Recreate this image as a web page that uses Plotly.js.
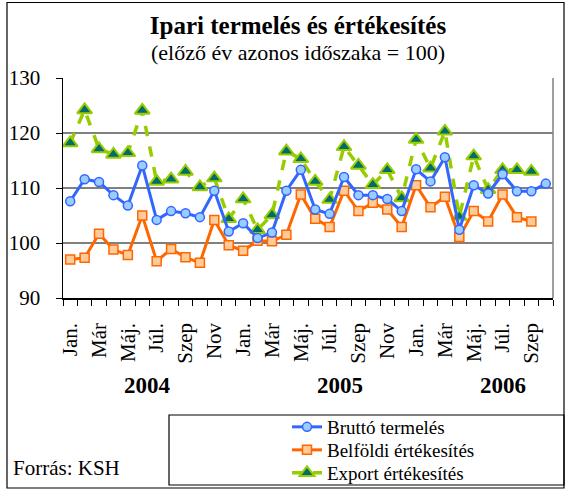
<!DOCTYPE html>
<html>
<head>
<meta charset="utf-8">
<script src="https://cdn.plot.ly/plotly-3.0.1.min.js"></script>
<style>html,body{margin:0;padding:0;background:#fff;}#chart{width:565px;height:490px;}</style>
</head>
<body>
<div id="chart"></div>
<script>
const years = ["2004", "2005", "2006"];
const monthNames = ["Jan.", "Feb.", "Már", "Ápr.", "Máj.", "Jún.", "Júl.", "Aug.", "Szep", "Okt.", "Nov", "Dec."];
const nMonths = 34; // Jan 2004 .. Oct 2006

const brutto = [
  107.6, 111.6, 111.1, 108.7, 106.8, 114.1, 104.2, 105.8, 105.4, 104.7, 109.5, 102.1,
  103.6, 100.9, 101.9, 109.5, 113.3, 106.1, 105.3, 112.0, 108.7, 108.7, 108.0, 105.8,
  113.4, 111.2, 115.6, 102.4, 110.5, 109.0, 112.5, 109.4, 109.4, 110.8
];
const belfoldi = [
  97.0, 97.3, 101.7, 98.8, 97.8, 105.0, 96.7, 98.9, 97.4, 96.4, 104.2, 99.6,
  98.6, 100.4, 100.3, 101.5, 108.8, 104.4, 102.9, 109.5, 105.8, 107.3, 106.1, 102.9,
  110.5, 106.5, 108.4, 101.1, 105.8, 103.9, 108.8, 104.7, 103.9
];
const exportV = [
  118.2, 124.2, 117.1, 116.1, 116.4, 124.1, 111.2, 111.6, 113.0, 110.2, 111.8, 104.4,
  108.0, 102.4, 105.1, 116.7, 115.3, 111.2, 107.9, 117.5, 114.1, 110.6, 113.3, 108.2,
  118.8, 113.6, 120.3, 104.8, 115.8, 109.7, 113.3, 113.3, 113.0
];

const categories = [];
const tickText = [];
for (let i = 0; i < nMonths; i++) {
  const y = years[Math.floor(i / 12)];
  const m = monthNames[i % 12];
  categories.push(y + " " + m);
  tickText.push(i % 2 === 0 ? m : "");
}

const FONT = "Liberation Serif";

const traces = [
  {
    x: categories.slice(0, exportV.length), y: exportV, name: "Export értékesítés",
    type: "scatter", mode: "lines+markers",
    line: {color: "#99cc00", width: 3.5, dash: "dash"},
    marker: {symbol: "triangle-up", size: 13, color: "#006c6c", line: {color: "#99cc00", width: 2}},
    legend: "legend3"
  },
  {
    x: categories.slice(0, belfoldi.length), y: belfoldi, name: "Belföldi értékesítés",
    type: "scatter", mode: "lines+markers",
    line: {color: "#ff6600", width: 3},
    marker: {symbol: "square", size: 9, color: "#ffcc99", line: {color: "#ff6600", width: 1.5}},
    legend: "legend2"
  },
  {
    x: categories.slice(0, brutto.length), y: brutto, name: "Bruttó termelés",
    type: "scatter", mode: "lines+markers",
    line: {color: "#3366ff", width: 3},
    marker: {symbol: "circle", size: 9, color: "#99ccff", line: {color: "#3366ff", width: 1.5}},
    legend: "legend"
  }
];

const L = 63, R = 553, T = 78, B = 298;
const W = 565, H = 490;
const px = v => (v - L) / (R - L);
const py = v => (B - v) / (B - T);

function legendAt(rowY) {
  return {
    x: px(287), xanchor: "left", y: py(rowY), yanchor: "middle",
    bgcolor: "rgba(0,0,0,0)", borderwidth: 0,
    font: {family: FONT, size: 19, color: "#000"}
  };
}

const layout = {
  width: W, height: H,
  margin: {l: L, r: W - R, t: T, b: H - B, pad: 0, autoexpand: false},
  paper_bgcolor: "#ffffff", plot_bgcolor: "#ffffff",
  font: {family: FONT, color: "#000", size: 20},
  title: {
    text: "<b>Ipari termelés és értékesítés</b>",
    font: {family: FONT, size: 25, color: "#000"},
    x: 298 / W, xanchor: "center", y: 1 - 25 / H, yanchor: "middle"
  },
  showlegend: true,
  legend: legendAt(427),
  legend2: legendAt(450),
  legend3: legendAt(473),
  xaxis: {
    type: "category",
    categoryorder: "array", categoryarray: categories,
    tickvals: categories, ticktext: tickText,
    tickson: "boundaries",
    ticks: "outside", ticklen: 6, tickwidth: 1, tickcolor: "#000",
    tickangle: -90,
    ticklabelstandoff: 15,
    tickfont: {family: FONT, size: 21, color: "#000"},
    showline: true, linecolor: "#000", linewidth: 1.5,
    showgrid: false, zeroline: false, automargin: false,
    range: [-0.5, nMonths - 0.5],
    fixedrange: true
  },
  yaxis: {
    range: [90, 130], tickvals: [90, 100, 110, 120, 130],
    ticks: "outside", ticklen: 6, tickwidth: 1, tickcolor: "#000",
    ticklabelstandoff: 11,
    tickfont: {family: FONT, size: 21, color: "#000"},
    showline: true, linecolor: "#000", linewidth: 1.5,
    showgrid: true, gridcolor: "#808080", gridwidth: 1.5,
    zeroline: false, automargin: false, fixedrange: true
  },
  shapes: [
    {type: "line", xref: "paper", yref: "paper", x0: 1, x1: 1, y0: 0, y1: 1,
     line: {color: "#808080", width: 1.5}},
    {type: "rect", xref: "paper", yref: "paper",
     x0: px(7), x1: px(564), y0: py(2.5), y1: py(488),
     line: {color: "#000", width: 1.2}, layer: "below"},
    {type: "rect", xref: "paper", yref: "paper",
     x0: px(169), x1: px(564), y0: py(415), y1: py(485),
     line: {color: "#000", width: 1.2}, layer: "below"}
  ],
  annotations: [
    {text: "(előző év azonos időszaka = 100)", xref: "paper", yref: "paper",
     x: px(298), y: py(52), xanchor: "center", yanchor: "middle", showarrow: false,
     font: {family: FONT, size: 22, color: "#000"}},
    {text: "<b>" + years[0] + "</b>", xref: "paper", yref: "paper",
     x: px(147), y: py(385), xanchor: "center", yanchor: "middle", showarrow: false,
     font: {family: FONT, size: 23, color: "#000"}},
    {text: "<b>" + years[1] + "</b>", xref: "paper", yref: "paper",
     x: px(340), y: py(385), xanchor: "center", yanchor: "middle", showarrow: false,
     font: {family: FONT, size: 23, color: "#000"}},
    {text: "<b>" + years[2] + "</b>", xref: "paper", yref: "paper",
     x: px(503), y: py(385), xanchor: "center", yanchor: "middle", showarrow: false,
     font: {family: FONT, size: 23, color: "#000"}},
    {text: "Forrás: KSH", xref: "paper", yref: "paper",
     x: px(11), y: py(468), xanchor: "left", yanchor: "middle", showarrow: false,
     font: {family: FONT, size: 21, color: "#000"}}
  ]
};

Plotly.newPlot("chart", traces, layout, {displayModeBar: false, staticPlot: true});
</script>
</body>
</html>
